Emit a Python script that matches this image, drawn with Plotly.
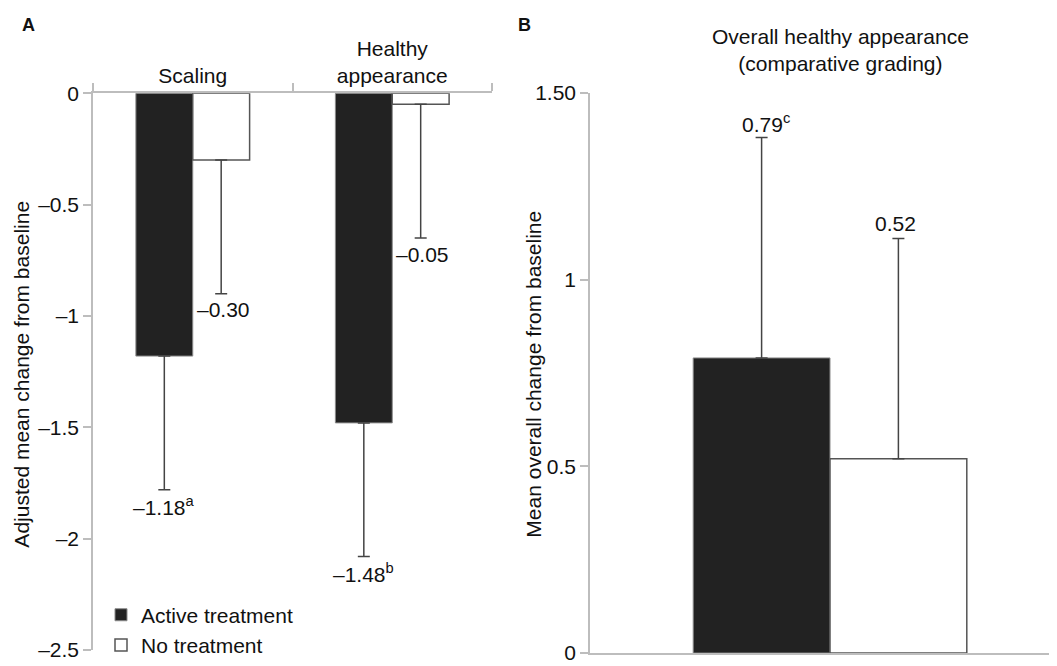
import plotly.graph_objects as go

# ---------------- data ----------------
categories_a = ["Scaling", "Healthy<br>appearance"]
active_a = [-1.18, -1.48]
none_a = [-0.30, -0.05]
err_active_a = [0.60, 0.60]
err_none_a = [0.60, 0.60]
sup_active_a = ["a", "b"]
sup_none_a = ["", ""]

category_b = ["Overall"]
active_b = [0.79]
none_b = [0.52]
err_active_b = [0.59]
err_none_b = [0.59]
sup_active_b = ["c"]
sup_none_b = [""]

ytick_a = [0, -0.5, -1, -1.5, -2, -2.5]
ytext_a = ["0", "–0.5", "–1", "–1.5", "–2", "–2.5"]
ytick_b = [0, 0.5, 1, 1.5]
ytext_b = ["0", "0.5", "1", "1.50"]

series_names = ["Active treatment", "No treatment"]

# ---------------- style ----------------
OFF = 8                       # page body margin of the browser
WIN_W, WIN_H = 1057, 666
W, H = WIN_W - OFF, WIN_H - OFF
FONT = "Arial, Liberation Sans, Helvetica, sans-serif"
FS = 21
AXIS_GREY = "#bdbdbd"
ACTIVE_FILL = "#222222"
ERR_COL = "#444444"
bar_w = (1 - 0.43) / 2  # width of one bar in category units
off = bar_w / 2

def px(x):
    return (x - OFF) / W

def py(y):
    return 1 - (y - OFF) / H

def fmt(v, sup):
    s = ("–" if v < 0 else "") + f"{abs(v):.2f}"
    if sup:
        s += f"<sup>{sup}</sup>"
    return s

fig = go.Figure()

err_style = dict(type="data", symmetric=False, color=ERR_COL, thickness=1.5, width=6)

# Panel A
fig.add_trace(go.Bar(
    x=categories_a, y=active_a, name=series_names[0], legendgroup="g1",
    marker=dict(color=ACTIVE_FILL, line=dict(color="#8a8a8a", width=1)),
    error_y=dict(array=[0] * len(active_a), arrayminus=err_active_a, **err_style),
    xaxis="x", yaxis="y", showlegend=True,
))
fig.add_trace(go.Bar(
    x=categories_a, y=none_a, name=series_names[1], legendgroup="g2",
    marker=dict(color="white", line=dict(color="#555555", width=1.5)),
    error_y=dict(array=[0] * len(none_a), arrayminus=err_none_a, **err_style),
    xaxis="x", yaxis="y", showlegend=True,
))
# Panel B
fig.add_trace(go.Bar(
    x=category_b, y=active_b, name=series_names[0], legendgroup="g1",
    marker=dict(color=ACTIVE_FILL, line=dict(color="#8a8a8a", width=1)),
    error_y=dict(array=err_active_b, arrayminus=[0] * len(active_b), **err_style),
    xaxis="x2", yaxis="y2", showlegend=False,
))
fig.add_trace(go.Bar(
    x=category_b, y=none_b, name=series_names[1], legendgroup="g2",
    marker=dict(color="white", line=dict(color="#555555", width=1.5)),
    error_y=dict(array=err_none_b, arrayminus=[0] * len(none_b), **err_style),
    xaxis="x2", yaxis="y2", showlegend=False,
))

annotations = []
# value labels panel A (below the error bar caps)
for i, (v, e, s) in enumerate(zip(active_a, err_active_a, sup_active_a)):
    annotations.append(dict(x=i - off, y=v - e, xref="x", yref="y", text=fmt(v, s),
                            showarrow=False, yanchor="middle", yshift=-16, xshift=0))
for i, (v, e, s) in enumerate(zip(none_a, err_none_a, sup_none_a)):
    annotations.append(dict(x=i + off, y=v - e, xref="x", yref="y", text=fmt(v, s),
                            showarrow=False, yanchor="middle", yshift=-16, xshift=2))
# value labels panel B (above the caps)
for i, (v, e, s) in enumerate(zip(active_b, err_active_b, sup_active_b)):
    annotations.append(dict(x=i - off, y=v + e, xref="x2", yref="y2", text=fmt(v, s),
                            showarrow=False, yanchor="middle", yshift=15, xshift=4 if s else 0))
for i, (v, e, s) in enumerate(zip(none_b, err_none_b, sup_none_b)):
    annotations.append(dict(x=i + off, y=v + e, xref="x2", yref="y2", text=fmt(v, s),
                            showarrow=False, yanchor="middle", yshift=15, xshift=-3))

# panel letters, titles
annotations += [
    dict(x=px(28), y=py(25), xref="paper", yref="paper", text="<b>A</b>", showarrow=False,
         font=dict(size=18), xanchor="center", yanchor="middle"),
    dict(x=px(524), y=py(25), xref="paper", yref="paper", text="<b>B</b>", showarrow=False,
         font=dict(size=18), xanchor="center", yanchor="middle"),
    dict(x=px(840), y=py(50), xref="paper", yref="paper",
         text="Overall healthy appearance<br>(comparative grading)", showarrow=False,
         xanchor="center", yanchor="middle"),
    dict(x=px(22), y=py(378), xref="paper", yref="paper", text="Adjusted mean change from baseline",
         showarrow=False, textangle=-90, xanchor="center", yanchor="middle"),
    dict(x=px(534), y=py(378), xref="paper", yref="paper", text="Mean overall change from baseline",
         showarrow=False, textangle=-90, xanchor="center", yanchor="middle"),
]

axis_common = dict(showgrid=False, zeroline=False, showline=True, linecolor=AXIS_GREY, linewidth=1.5,
                   tickcolor=AXIS_GREY, tickwidth=1.5, ticklen=8, automargin=False,
                   tickfont=dict(size=FS, color="#111"))

fig.update_layout(
    width=W, height=H,
    margin=dict(l=0, r=0, t=0, b=0),
    paper_bgcolor="white", plot_bgcolor="white",
    font=dict(family=FONT, size=FS, color="#111"),
    barmode="group", bargap=0.43, bargroupgap=0,
    xaxis=dict(domain=[px(93), px(492)], anchor="y", side="top", type="category",
               categoryorder="array", categoryarray=categories_a,
               ticks="outside", tickson="boundaries", range=[-0.5, 1.5], **axis_common),
    yaxis=dict(domain=[py(656), py(94)], anchor="x", range=[-2.5, 0],
               tickvals=ytick_a, ticktext=ytext_a, ticks="outside", **axis_common),
    xaxis2=dict(domain=[px(590), 1.0], anchor="y2", type="category",
                range=[-0.5, -0.5 + (WIN_W - 590) / 480], ticks="", showticklabels=False,
                **{k: v for k, v in axis_common.items() if k not in ("ticklen",)}),
    yaxis2=dict(domain=[py(659), py(93.5)], anchor="x2", range=[0, 1.5],
                tickvals=ytick_b, ticktext=ytext_b, ticks="outside", **axis_common),
    legend=dict(x=px(101), y=py(600), xanchor="left", yanchor="top", bgcolor="rgba(0,0,0,0)",
                font=dict(size=FS), tracegroupgap=7, traceorder="normal"),
    annotations=annotations,
)

fig.write_html("out.html")
